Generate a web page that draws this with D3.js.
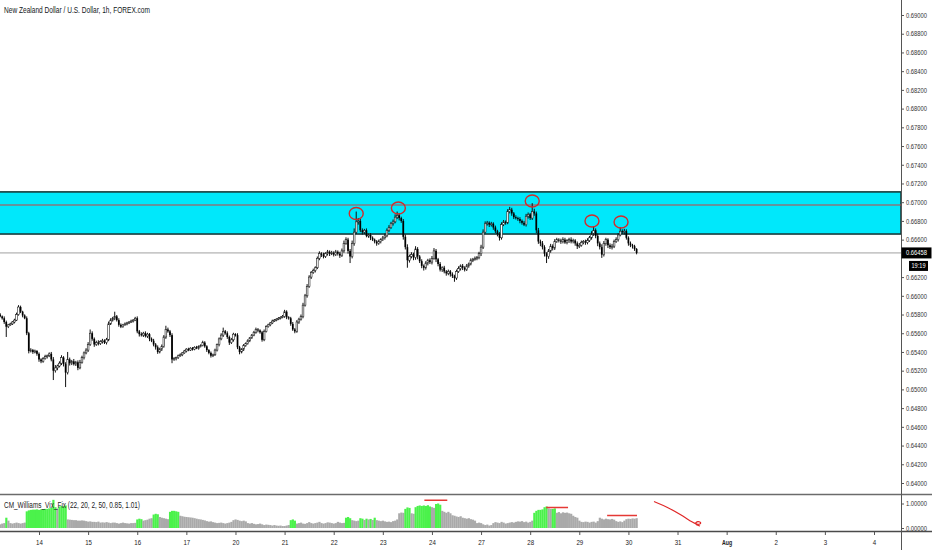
<!DOCTYPE html>
<html>
<head>
<meta charset="utf-8">
<script src="https://d3js.org/d3.v7.min.js"></script>
<style>
  html, body { margin: 0; padding: 0; background: #fff; overflow: hidden; }
  text { font-family: "Liberation Sans", Arial, sans-serif; }
</style>
</head>
<body>
<div id="chart"></div>
<script>
// NZD/USD 1h closes, in 1e-5 (points), one per hourly bar
const closes = [
  65780,65760,65720,65670,65690,65700,65720,65740,65800,65880,
  65830,65790,65760,65600,65410,65420,65400,65410,65380,65320,
  65300,65330,65350,65360,65380,65320,65200,65230,65250,65280,
  65340,65270,65180,65320,65280,65300,65270,65290,65230,65290,
  65340,65390,65420,65480,65600,65540,65480,65500,65490,65510,
  65520,65500,65530,65700,65740,65760,65780,65740,65690,65670,
  65690,65700,65710,65720,65730,65740,65760,65620,65590,65580,
  65600,65570,65590,65540,65520,65480,65450,65400,65430,65460,
  65560,65640,65620,65580,65320,65330,65340,65360,65370,65390,
  65410,65430,65420,65440,65430,65450,65440,65460,65470,65500,
  65460,65420,65390,65360,65370,65420,65480,65540,65580,65620,
  65600,65560,65500,65530,65590,65580,65450,65400,65430,65470,
  65490,65520,65550,65580,65610,65640,65630,65610,65530,65620,
  65670,65690,65710,65730,65740,65750,65760,65770,65780,65830,
  65770,65760,65700,65640,65620,65720,65750,65780,65900,66000,
  66100,66200,66250,66270,66300,66400,66450,66440,66420,66450,
  66470,66450,66460,66440,66470,66450,66430,66480,66560,66600,
  66480,66420,66560,66680,66790,66800,66700,66680,66700,66640,
  66650,66620,66600,66580,66560,66580,66600,66620,66640,66700,
  66730,66770,66790,66840,66860,66830,66800,66630,66520,66380,
  66420,66440,66410,66500,66420,66370,66320,66300,66350,66380,
  66360,66400,66480,66390,66340,66280,66300,66260,66240,66260,
  66230,66210,66190,66260,66290,66320,66300,66280,66320,66340,
  66380,66390,66400,66410,66450,66520,66680,66770,66780,66760,
  66770,66730,66690,66660,66620,66760,66790,66780,66900,66920,
  66880,66840,66830,66820,66800,66780,66760,66850,66870,66830,
  66900,66880,66700,66580,66560,66520,66450,66420,66480,66530,
  66510,66580,66600,66590,66580,66600,66570,66590,66600,66580,
  66590,66560,66530,66540,66570,66580,66570,66590,66620,66660,
  66700,66640,66560,66520,66440,66560,66600,66540,66520,66530,
  66580,66600,66650,66690,66680,66690,66620,66560,66540,66530,
  66500,66458
];
const firstOpen = 65800;

// upper / lower wick length beyond the body, in points
const wickUp = [
  15,10,20,15,10,12,10,15,20,20, 15,10,12,20,15,20,12,15,10,15,
  12,15,20,12,15,20,25,30,15,20, 25,15,20,80,20,15,25,15,20,25,
  20,15,20,25,40,20,15,20,25,15, 20,15,20,25,20,15,50,15,20,15,
  10,15,12,10,15,12,15,20,15,20, 15,20,15,12,15,20,15,20,15,20,
  20,40,20,15,20,15,10,12,15,10, 12,10,15,10,12,10,15,10,12,20,
  15,12,10,15,12,15,10,15,20,40, 15,20,15,20,15,10,20,15,10,15,
  12,15,10,12,15,20,15,12,15,20, 15,12,10,15,12,10,12,10,15,20,
  15,12,15,20,15,20,15,20,25,20, 25,20,15,20,15,20,25,15,20,15,
  20,15,20,15,20,15,20,25,30,25, 20,20,30,40,110,30,25,20,15,20,
  15,20,15,12,15,20,15,20,25,20, 25,20,25,30,40,20,15,20,25,30,
  20,25,20,30,20,15,20,15,20,15, 20,25,30,20,15,20,15,20,15,20,
  15,20,15,20,25,15,20,15,20,15, 20,15,20,15,20,25,30,25,20,15,
  20,15,20,15,20,25,20,15,25,30, 20,15,20,15,20,15,20,25,20,15,
  90,30,20,25,20,25,20,15,20,25, 20,25,20,15,20,25,20,15,20,25,
  20,15,20,25,20,15,20,25,20,30, 40,20,25,20,30,25,20,15,20,25,
  20,25,20,40,20,25,20,15,20,15, 15,10
];
const wickDn = [
  10,15,20,110,15,10,12,15,10,12, 15,20,10,20,25,15,20,15,20,25,
  20,15,12,20,15,20,100,20,25,15, 20,25,155,20,25,20,15,20,25,15,
  15,20,15,20,15,20,25,15,20,15, 20,15,20,15,12,15,20,15,20,15,
  12,10,15,12,10,15,10,20,25,15, 20,15,20,25,15,20,25,20,15,20,
  15,20,15,20,40,15,20,15,12,15, 10,15,12,10,15,12,10,15,12,10,
  15,20,15,20,15,12,15,20,15,20, 15,20,25,15,20,15,20,25,15,20,
  15,12,15,10,12,15,20,15,20,15, 12,10,15,12,10,12,10,12,10,15,
  20,15,20,15,20,15,20,15,20,15, 20,15,20,15,20,15,20,25,20,15,
  20,25,15,20,15,20,25,15,20,15, 30,70,20,25,20,30,20,25,20,15,
  20,25,15,20,25,15,20,15,20,15, 20,15,20,15,20,25,20,30,25,80,
  25,20,30,25,30,20,25,30,20,25, 20,25,15,30,25,20,25,20,25,20,
  25,20,40,20,15,20,25,20,15,20, 15,20,15,20,20,25,20,15,20,25,
  20,25,20,25,30,20,15,20,15,20, 25,20,15,20,25,20,15,20,25,20,
  20,25,30,25,30,25,30,70,25,20, 25,20,15,20,25,20,15,20,25,20,
  20,25,30,20,15,20,25,20,15,20, 20,25,30,25,35,20,25,30,20,25,
  20,15,20,15,20,25,20,25,20,25, 20,15
];

// CM_Williams_Vix_Fix histogram, one per bar
const vixFix = [
  0.15,0.18,0.2,0.42,0.3,0.2,0.18,0.2,0.22,0.2,
  0.18,0.2,0.22,0.68,0.72,0.74,0.75,0.75,0.76,0.74,
  0.76,0.77,0.78,0.78,0.8,0.82,1.15,0.85,0.8,0.88,
  0.9,0.88,0.92,0.35,0.34,0.33,0.32,0.32,0.3,0.3,
  0.31,0.3,0.28,0.26,0.27,0.25,0.25,0.24,0.26,0.22,
  0.23,0.22,0.24,0.22,0.2,0.22,0.22,0.2,0.18,0.2,
  0.22,0.2,0.19,0.18,0.2,0.2,0.21,0.35,0.38,0.36,
  0.3,0.32,0.34,0.38,0.4,0.55,0.58,0.56,0.45,0.42,
  0.4,0.38,0.36,0.66,0.7,0.7,0.68,0.66,0.5,0.48,
  0.46,0.45,0.44,0.43,0.42,0.4,0.38,0.36,0.35,0.33,
  0.31,0.28,0.26,0.27,0.24,0.22,0.2,0.21,0.22,0.2,
  0.18,0.2,0.22,0.25,0.32,0.35,0.33,0.3,0.28,0.3,
  0.27,0.2,0.18,0.2,0.17,0.15,0.16,0.18,0.15,0.12,
  0.14,0.13,0.12,0.1,0.12,0.1,0.09,0.1,0.08,0.08,
  0.1,0.12,0.32,0.35,0.3,0.18,0.2,0.22,0.18,0.17,
  0.2,0.24,0.2,0.18,0.2,0.22,0.25,0.2,0.18,0.2,
  0.23,0.22,0.2,0.18,0.2,0.25,0.22,0.2,0.21,0.42,
  0.45,0.4,0.32,0.3,0.28,0.3,0.4,0.38,0.33,0.38,
  0.35,0.37,0.33,0.42,0.32,0.3,0.28,0.3,0.27,0.25,
  0.26,0.24,0.28,0.3,0.35,0.6,0.63,0.62,0.78,0.84,
  0.82,0.6,0.58,0.85,0.9,0.92,0.9,0.92,0.9,0.93,
  0.88,0.85,0.82,0.98,1.0,0.95,0.7,0.66,0.62,0.66,
  0.6,0.52,0.5,0.47,0.45,0.48,0.42,0.4,0.38,0.4,
  0.36,0.34,0.3,0.2,0.22,0.2,0.15,0.12,0.14,0.1,
  0.12,0.2,0.24,0.22,0.2,0.25,0.22,0.18,0.2,0.22,
  0.24,0.22,0.25,0.27,0.26,0.28,0.24,0.26,0.22,0.25,
  0.3,0.62,0.7,0.74,0.74,0.76,0.85,0.88,0.8,0.78,
  0.78,0.8,0.62,0.65,0.6,0.64,0.62,0.63,0.6,0.58,
  0.5,0.45,0.42,0.3,0.25,0.24,0.26,0.25,0.22,0.25,
  0.26,0.22,0.28,0.42,0.38,0.35,0.38,0.36,0.35,0.37,
  0.34,0.28,0.25,0.27,0.24,0.3,0.36,0.38,0.37,0.39,
  0.38,0.4
];
// bar ranges where the vix fix is above its band (drawn lime)
const vixGreen = [[3,3],[13,27],[29,32],[67,69],[75,77],[83,87],[142,144],[169,171],
  [176,177],[179,179],[181,181],[183,183],[198,200],[203,210],[213,215],[261,267],[270,271]];

// day labels and the bar index they sit on
const dayLabels = ["14","15","16","17","20","21","22","23","24","27","28","29","30","31","Aug","2","3","4"];
const dayBars   = [19,43,67,91,115,139,163,187,211,235,259,283,307,331,355,379,403,427];

const priceTicks = [0.640,0.642,0.644,0.646,0.648,0.650,0.652,0.654,0.656,0.658,0.660,0.662,
  0.664,0.666,0.668,0.670,0.672,0.674,0.676,0.678,0.680,0.682,0.684,0.686,0.688,0.690];
const vixTicks = [0, 1];

// drawings on the chart
const zone = [0.6666, 0.6711];
const redLevel = 0.6697;
const lastPrice = 0.66458;
const peakCircles = [[174, 0.66880], [194.6, 0.66938], [260, 0.67013], [289.2, 0.66799], [303.4, 0.66788]];
const vixMarks = [[207.3, 218.5, 1.13], [266.8, 277.5, 0.84], [296.6, 311.2, 0.51]];
const arrowPts = [[319.5, 1.08], [326, 0.86], [333, 0.52], [338.5, 0.22], [341, 0.12], [343, 0.2], [341, 0.3], [339, 0.16], [342, 0.08]];

const width = 932, height = 550;
const plotRight = 901, mainBottom = 494, vixBottom = 531.5;

const svg = d3.select("#chart").append("svg")
  .attr("width", width)
  .attr("height", height)
  .style("display", "block");

const x = d3.scaleLinear().domain([19, 427]).range([39, 874]);
const y = d3.scaleLinear().domain([0.64, 0.69]).range([483, 15]);
const yv = d3.scaleLinear().domain([0, 1]).range([528, 503.5]);
const barW = x(1) - x(0);

svg.append("clipPath").attr("id", "mainClip")
  .append("rect").attr("x", 0).attr("y", 0).attr("width", plotRight).attr("height", mainBottom);
svg.append("clipPath").attr("id", "vixClip")
  .append("rect").attr("x", 0).attr("y", mainBottom + 1).attr("width", plotRight).attr("height", vixBottom - mainBottom - 2);

const main = svg.append("g").attr("clip-path", "url(#mainClip)");

// supply zone
main.append("rect")
  .attr("x", -3)
  .attr("y", y(zone[1]))
  .attr("width", plotRight + 3)
  .attr("height", y(zone[0]) - y(zone[1]))
  .attr("fill", "#00e8fb")
  .attr("stroke", "#183c3c")
  .attr("stroke-width", 1.6);

main.append("line")
  .attr("x1", 0).attr("x2", plotRight)
  .attr("y1", y(redLevel)).attr("y2", y(redLevel))
  .attr("stroke", "#c94040").attr("stroke-width", 1);

main.append("line")
  .attr("x1", 0).attr("x2", plotRight)
  .attr("y1", y(lastPrice)).attr("y2", y(lastPrice))
  .attr("stroke", "#a0a0a0").attr("stroke-width", 1);

const bars = closes.map((c, i) => {
  const o = i ? closes[i - 1] : firstOpen;
  return {
    i: i,
    o: o / 1e5,
    c: c / 1e5,
    h: (Math.max(o, c) + wickUp[i]) / 1e5,
    l: (Math.min(o, c) - wickDn[i]) / 1e5
  };
});

const candle = main.selectAll("g.candle")
  .data(bars)
  .enter()
  .append("g")
  .attr("class", "candle");

candle.append("line")
  .attr("x1", d => x(d.i)).attr("x2", d => x(d.i))
  .attr("y1", d => y(d.h)).attr("y2", d => y(d.l))
  .attr("stroke", "#111")
  .attr("stroke-width", 1);

candle.append("rect")
  .attr("x", d => x(d.i) - 0.85)
  .attr("width", 1.7)
  .attr("y", d => y(Math.max(d.o, d.c)))
  .attr("height", d => Math.max(1, Math.abs(y(d.o) - y(d.c))))
  .attr("fill", d => d.c >= d.o ? "#ffffff" : "#000000")
  .attr("stroke", d => d.c >= d.o ? "#222" : "none")
  .attr("stroke-width", 0.6);

// hand-drawn circles around the tops
main.selectAll("ellipse")
  .data(peakCircles)
  .enter()
  .append("ellipse")
  .attr("cx", d => x(d[0]))
  .attr("cy", d => y(d[1]))
  .attr("rx", 7)
  .attr("ry", 6)
  .attr("fill", "none")
  .attr("stroke", "#d42a2a")
  .attr("stroke-width", 1.4);

// vix fix panel
const vix = svg.append("g").attr("clip-path", "url(#vixClip)");
const isGreen = i => vixGreen.some(r => i >= r[0] && i <= r[1]);

vix.selectAll("rect")
  .data(vixFix)
  .enter()
  .append("rect")
  .attr("x", (d, i) => x(i) - barW / 2)
  .attr("width", barW + 0.15)
  .attr("y", d => yv(d))
  .attr("height", d => yv(0) - yv(d))
  .attr("fill", (d, i) => isGreen(i) ? "#4bf24b" : "#aaaaaa");

vix.selectAll("line.mark")
  .data(vixMarks)
  .enter()
  .append("line")
  .attr("class", "mark")
  .attr("x1", d => x(d[0])).attr("x2", d => x(d[1]))
  .attr("y1", d => yv(d[2])).attr("y2", d => yv(d[2]))
  .attr("stroke", "#e53935")
  .attr("stroke-width", 1.5);

vix.append("path")
  .datum(arrowPts)
  .attr("d", d3.line().x(d => x(d[0])).y(d => yv(d[1])).curve(d3.curveBasis))
  .attr("fill", "none")
  .attr("stroke", "#e02828")
  .attr("stroke-width", 1.2);

vix.append("text")
  .attr("x", 4)
  .attr("y", 508)
  .attr("font-size", 8.5)
  .attr("fill", "#222")
  .attr("textLength", 136)
  .attr("lengthAdjust", "spacingAndGlyphs")
  .text("CM_Williams_Vix_Fix (22, 20, 2, 50, 0.85, 1.01)");

// title
svg.append("text")
  .attr("x", 4)
  .attr("y", 13)
  .attr("font-size", 9)
  .attr("fill", "#131722")
  .attr("textLength", 146)
  .attr("lengthAdjust", "spacingAndGlyphs")
  .text("New Zealand Dollar / U.S. Dollar, 1h, FOREX.com");

// panel separators and axis line
svg.append("line")
  .attr("x1", 0).attr("x2", width).attr("y1", mainBottom + 0.5).attr("y2", mainBottom + 0.5)
  .attr("stroke", "#6b6b6b").attr("stroke-width", 1.6);
svg.append("line")
  .attr("x1", 0).attr("x2", width).attr("y1", vixBottom).attr("y2", vixBottom)
  .attr("stroke", "#4a4a4a").attr("stroke-width", 1.6);
svg.append("line")
  .attr("x1", plotRight + 0.5).attr("x2", plotRight + 0.5).attr("y1", 0).attr("y2", height)
  .attr("stroke", "#555").attr("stroke-width", 1);

const styleAxis = (g, len) => {
  g.select(".domain").remove();
  g.selectAll(".tick line").attr("stroke", "#555");
  g.selectAll(".tick text")
    .attr("fill", "#333")
    .attr("font-size", 7)
    .attr("font-family", "Liberation Sans, Arial, sans-serif")
    .attr("lengthAdjust", "spacingAndGlyphs")
    .attr("textLength", len);
};

const fmt = d3.format(".5f");

svg.append("g")
  .attr("transform", `translate(${plotRight},0)`)
  .call(d3.axisRight(y)
    .tickValues(priceTicks.filter(p => Math.abs(y(p) - y(lastPrice)) > 12))
    .tickFormat(fmt)
    .tickSize(3)
    .tickPadding(2))
  .call(g => styleAxis(g, 21));

svg.append("g")
  .attr("transform", `translate(${plotRight},0)`)
  .call(d3.axisRight(yv)
    .tickValues(vixTicks)
    .tickFormat(fmt)
    .tickSize(3)
    .tickPadding(2))
  .call(g => styleAxis(g, 21));

svg.append("g")
  .attr("transform", `translate(0,${vixBottom + 0.5})`)
  .call(d3.axisBottom(x)
    .tickValues(dayBars)
    .tickFormat((d, i) => dayLabels[i])
    .tickSize(3)
    .tickPadding(4))
  .call(g => {
    g.select(".domain").remove();
    g.selectAll(".tick line").attr("stroke", "#555");
    g.selectAll(".tick text")
      .attr("fill", "#222")
      .attr("font-size", 8)
      .attr("font-family", "Liberation Sans, Arial, sans-serif")
      .attr("font-weight", (d, i) => dayLabels[i] === "Aug" ? "bold" : "normal")
      .attr("lengthAdjust", "spacingAndGlyphs")
      .attr("textLength", (d, i) => dayLabels[i].length * 3.4);
  });

// last price and countdown labels
const priceTag = svg.append("g");
priceTag.append("rect")
  .attr("x", plotRight + 0.5).attr("y", y(lastPrice) - 5.5)
  .attr("width", 30).attr("height", 11)
  .attr("fill", "#000");
priceTag.append("text")
  .attr("x", plotRight + 5).attr("y", y(lastPrice) + 2.5)
  .attr("font-size", 7).attr("fill", "#fff")
  .attr("textLength", 21).attr("lengthAdjust", "spacingAndGlyphs")
  .text(fmt(lastPrice));
priceTag.append("rect")
  .attr("x", plotRight + 8).attr("y", y(lastPrice) + 8)
  .attr("width", 19).attr("height", 10)
  .attr("fill", "#000");
priceTag.append("text")
  .attr("x", plotRight + 17.5).attr("y", y(lastPrice) + 15.5)
  .attr("text-anchor", "middle")
  .attr("font-size", 7).attr("fill", "#fff")
  .attr("textLength", 14).attr("lengthAdjust", "spacingAndGlyphs")
  .text("19:19");
</script>
</body>
</html>
